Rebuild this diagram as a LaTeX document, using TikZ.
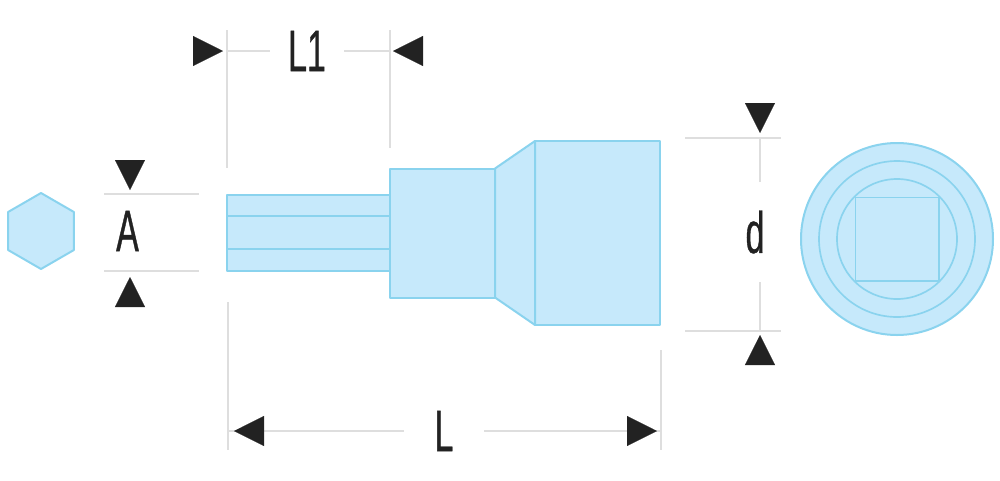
\documentclass[tikz,border=0pt]{standalone}
\usepackage{fontspec}
\usetikzlibrary{positioning,arrows.meta,shapes.geometric}
\newfontfamily\dimfont[FakeStretch=.58,FakeBold=.6]{Liberation Sans}
\definecolor{partfill}{HTML}{C6E9FB}
\definecolor{partline}{HTML}{8AD3EE}
\definecolor{dimgray}{HTML}{DEDEDE}
\definecolor{tipblack}{HTML}{222222}
\tikzset{
    part/.style={%
        draw=partline, fill=partfill, line width=.6mm,
        inner sep=0pt, outer sep=0pt, line join=round
        },
    dimline/.style={draw=dimgray, line width=.6mm},
    dimtip/.style={-{Triangle[length=9mm,width=9mm]}, tipblack, line width=.1mm, shorten <=1mm},
    dimlabel/.style={%
        inner sep=0pt, outer sep=0pt, text=tipblack,
        font=\dimfont\fontsize{50}{50}\selectfont
        }
}

\begin{document}
\begin{tikzpicture}[x=.3mm, y=-.3mm]

\useasboundingbox (0,0) rectangle (1000,480);

\node[part, regular polygon, regular polygon sides=6, shape border rotate=30, minimum size=22.8mm] (Hex) at (41,231) {};

\node[part, minimum width=48.9mm, minimum height=22.8mm] (Shaft) at (308.5,233) {};

\draw[part] (Shaft.west |- 0,216) coordinate (ShaftA) -- (Shaft.east |- ShaftA);
\draw[part] (Shaft.west |- 0,249) coordinate (ShaftB) -- (Shaft.east |- ShaftB);

\node[part, minimum width=31.5mm, minimum height=38.7mm, right=0pt of Shaft] (Collar) {};

\node[part, minimum width=37.5mm, minimum height=55.2mm, right=12mm of Collar] (Head) {};

\draw[part] (Collar.north east) -- (Head.north west) -- (Head.south west) -- (Collar.south east) -- cycle;

\node[part, circle, minimum size=57.6mm] (Outer) at (897,239) {};

\node[part, circle, fill=none, line width=.5mm, minimum size=46.8mm] (Middle) at (Outer) {};

\node[part, circle, fill=none, line width=.5mm, minimum size=36mm] (Inner) at (Outer) {};

\node[part, line width=.5mm, minimum size=25mm] (Square) at (Outer) {};

\node[dimlabel, minimum width=22.2mm] (DimLone) at (307,51) {L1};

\node[dimlabel] (DimA) at (127.5,231) {A};

\node[dimlabel, minimum height=30mm] (DimD) at (755,232) {d};

\node[dimlabel, minimum width=24mm] (DimL) at (444,431) {L};

\coordinate (LoneLeftTop) at (227,30);
\coordinate (LoneLeftEnd) at (227,168);
\coordinate (LoneRightTop) at (390,30);
\coordinate (LoneRightEnd) at (390,148);
\coordinate (LLeftTop) at (228,302);
\coordinate (LLeftEnd) at (228,450);
\coordinate (LRightTop) at (661,350);
\coordinate (LRightEnd) at (661,450);
\coordinate (AUpLeft) at (104,193.5);
\coordinate (AUpRight) at (199,193.5);
\coordinate (ALowLeft) at (104,270.5);
\coordinate (ALowRight) at (199,270.5);
\coordinate (DUpLeft) at (685,138);
\coordinate (DUpRight) at (781,138);
\coordinate (DLowLeft) at (685,330.5);
\coordinate (DLowRight) at (781,330.5);

\draw[dimline] (LoneLeftTop) -- (LoneLeftEnd);
\draw[dimline] (LoneRightTop) -- (LoneRightEnd);
\draw[dimline] (LLeftTop) -- (LLeftEnd);
\draw[dimline] (LRightTop) -- (LRightEnd);
\draw[dimline] (AUpLeft) -- (AUpRight);
\draw[dimline] (ALowLeft) -- (ALowRight);
\draw[dimline] (DUpLeft) -- (DUpRight);
\draw[dimline] (DLowLeft) -- (DLowRight);

\draw[dimline] (LoneLeftTop |- DimLone) -- (DimLone.west);
\draw[dimline] (DimLone.east) -- (LoneRightTop |- DimLone);
\draw[dimline] (LLeftTop |- DimL) -- (DimL.west);
\draw[dimline] (DimL.east) -- (LRightTop |- DimL);
\draw[dimline] (DimD.north -| 760,0) -- (760,138);
\draw[dimline] (DimD.south -| 760,0) -- (760,330.5);

\coordinate (TipLoneA) at (193,51);
\coordinate (TipLoneB) at (423,51);
\coordinate (TipAUp) at (130,160);
\coordinate (TipALow) at (130,307);
\coordinate (TipDUp) at (760,103);
\coordinate (TipDLow) at (760,365);
\coordinate (TipLA) at (264,431);
\coordinate (TipLB) at (627,431);

\draw[dimtip] (TipLoneA) -- ++(30,0);
\draw[dimtip] (TipLoneB) -- ++(-30,0);
\draw[dimtip] (TipAUp) -- ++(0,30);
\draw[dimtip] (TipALow) -- ++(0,-30);
\draw[dimtip] (TipDUp) -- ++(0,30);
\draw[dimtip] (TipDLow) -- ++(0,-30);
\draw[dimtip] (TipLA) -- ++(-30,0);
\draw[dimtip] (TipLB) -- ++(30,0);

\end{tikzpicture}
\end{document}
